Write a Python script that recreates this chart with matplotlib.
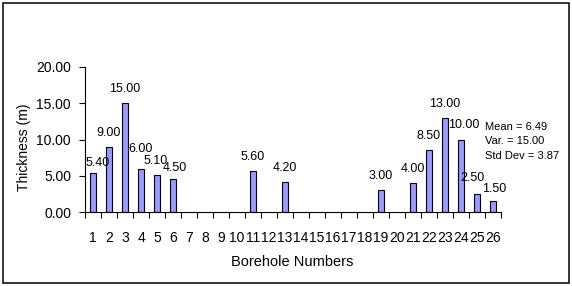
import numpy as np
import matplotlib
matplotlib.use("Agg")
import matplotlib.pyplot as plt
from matplotlib.patches import Rectangle

boreholes = [str(i) for i in range(1, 27)]
thickness = [5.4, 9.0, 15.0, 6.0, 5.1, 4.5, None, None, None, None, 5.6, None, 4.2,
             None, None, None, None, None, 3.0, None, 4.0, 8.5, 13.0, 10.0, 2.5, 1.5]
yticks = [0, 5, 10, 15, 20]
stats_lines = ["Mean = 6.49", "Var. = 15.00", "Std Dev = 3.87"]

# label placement tweaks (pixels), mimicking the original's label layout
label_nudge = {0: (5, -4), 3: (0, 6), 4: (-1, 0), 5: (2, -3), 23: (3, 0),
               24: (-5, 2), 25: (1, -2)}

plt.rcParams['font.family'] = ['Liberation Sans', 'DejaVu Sans']

W, H = 572, 286
fig = plt.figure(figsize=(W / 100, H / 100), dpi=100)
fig.patch.set_facecolor('white')

x0, x1, y0, y1 = 85, 501, 212, 67
ax = fig.add_axes([x0 / W, 1 - y0 / H, (x1 - x0) / W, (y0 - y1) / H])

vals = np.array([np.nan if v is None else v for v in thickness], dtype=float)
pos = np.arange(len(boreholes))
bars = ax.bar(pos, np.nan_to_num(vals), width=0.38, color='#9999ff',
              edgecolor='black', linewidth=0.8)
for i, (b, v) in enumerate(zip(bars, vals)):
    if np.isnan(v):
        b.set_visible(False)
    else:
        dx, dy = label_nudge.get(i, (0, 0))
        ax.annotate(f"{v:.2f}", (b.get_x() + b.get_width() / 2, v),
                    xytext=(dx, 8 + dy), textcoords='offset pixels',
                    ha='center', va='bottom', fontsize=9)

ax.set_xlim(-0.5, len(boreholes) - 0.5)
ax.set_ylim(0, 20)
ax.set_yticks(yticks)
ax.set_yticklabels([f"{t:.2f}" for t in yticks])
ax.set_xticks(pos)
ax.set_xticklabels(boreholes)
ax.set_xticks(np.arange(-0.5, len(boreholes)), minor=True)
ax.tick_params(axis='x', which='major', length=0, pad=14, labelsize=10)
ax.tick_params(axis='x', which='minor', length=4, width=0.8, direction='out')
ax.tick_params(axis='y', which='major', length=4, width=0.8, direction='out',
               pad=6, labelsize=10)
for s in ['top', 'right']:
    ax.spines[s].set_visible(False)
for s in ['left', 'bottom']:
    ax.spines[s].set_linewidth(0.8)

fig.text(24 / W, 1 - 147 / H, "Thickness (m)", rotation=90, ha='center',
         va='center', fontsize=10)
fig.text(292 / W, 1 - 262 / H, "Borehole Numbers", ha='center', va='center',
         fontsize=10.5)

for i, line in enumerate(stats_lines):
    fig.text(485 / W, 1 - (127 + i * 14.5) / H, line, ha='left', va='center',
             fontsize=8)

fig.patches.append(Rectangle((2.5 / W, 3 / H), 566 / W, 280 / H,
                             transform=fig.transFigure, fill=False,
                             edgecolor='black', linewidth=1.1))

fig.savefig("out.png", dpi=100)
